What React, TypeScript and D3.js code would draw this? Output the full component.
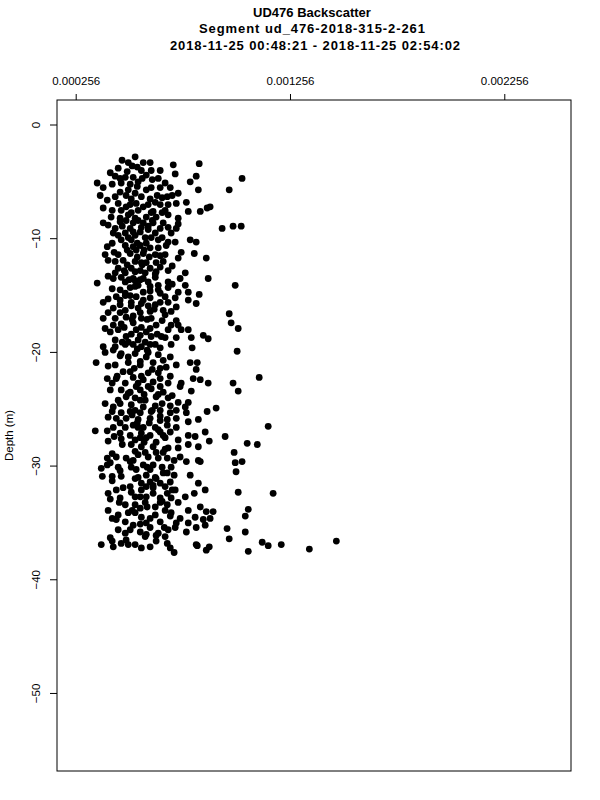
import React from "react";
import * as d3 from "d3";

// ---- chart text ----
const titleLines = [
  "UD476 Backscatter",
  "Segment ud_476-2018-315-2-261",
  "2018-11-25 00:48:21 - 2018-11-25 02:54:02",
];
const yLabel = "Depth (m)";

// ---- axis settings (data units) ----
const xLimits = [0.0001664, 0.002565];
const yLimits = [-56.82, 2.2];
const xTicks = [0.000256, 0.001256, 0.002256];
const xTickLabels = ["0.000256", "0.001256", "0.002256"];
const yTicks = [0, -10, -20, -30, -40, -50];

// ---- data: [backscatter, depth] ----
const outliers: [number, number][] = [
  [0.00083, -3.4], [0.000709, -3.5], [0.000718, -4.3], [0.00103, -4.7], [0.000816, -4.5], [0.000826, -5.7],
  [0.00097, -5.7], [0.000788, -5.0], [0.00077, -6.8], [0.000881, -7.2], [0.000867, -7.3], [0.000835, -7.6],
  [0.000779, -7.6], [0.000937, -9.1], [0.000988, -8.9], [0.001026, -8.9], [0.000788, -10.1], [0.000816, -10.3],
  [0.000807, -11.3], [0.000863, -11.7], [0.000872, -13.5], [0.000998, -14.1], [0.00083, -14.9], [0.000816, -15.7],
  [0.00097, -16.6], [0.000979, -17.4], [0.001012, -17.9], [0.000849, -18.5], [0.000872, -18.8], [0.000797, -19.6],
  [0.001007, -19.9], [0.000821, -20.9], [0.000816, -21.5], [0.00111, -22.2], [0.000835, -22.4], [0.000872, -22.7],
  [0.000988, -22.7], [0.001012, -23.4], [0.000793, -23.4], [0.000909, -24.9], [0.000867, -25.2], [0.001152, -26.5],
  [0.000858, -27.0], [0.000877, -27.8], [0.000951, -27.4], [0.001054, -28.0], [0.001101, -28.1], [0.000993, -28.8],
  [0.000998, -29.7], [0.00103, -29.6], [0.001002, -30.5], [0.000835, -29.6], [0.001012, -32.3], [0.001175, -32.4],
  [0.000826, -31.5], [0.000807, -32.4], [0.001059, -33.8], [0.001045, -34.4], [0.000895, -34.0], [0.000881, -34.6],
  [0.00096, -35.5], [0.001045, -35.8], [0.00097, -36.4], [0.001124, -36.7], [0.001152, -37.0], [0.001213, -36.9],
  [0.001344, -37.3], [0.00147, -36.6], [0.001059, -37.5], [0.000821, -37.0], [0.000877, -37.1],
];

const coreUpper: [number, number][] = [
  [0.000531, -2.8], [0.000601, -3.3], [0.000499, -3.3], [0.000452, -3.8], [0.000541, -3.7], [0.00056, -4.0],
  [0.000606, -4.0], [0.000438, -4.5], [0.000485, -4.6], [0.000522, -4.6], [0.000583, -4.4], [0.000639, -4.7],
  [0.000354, -5.1], [0.000466, -5.1], [0.000508, -5.2], [0.000545, -5.0], [0.000606, -5.5], [0.000671, -5.1],
  [0.000695, -5.5], [0.000382, -5.5], [0.000368, -6.2], [0.000438, -6.3], [0.000489, -6.2], [0.000531, -6.0],
  [0.00056, -6.3], [0.000634, -6.2], [0.000657, -6.4], [0.000681, -6.3], [0.000732, -6.0], [0.000452, -6.9],
  [0.000508, -7.0], [0.000536, -6.9], [0.000592, -7.0], [0.000648, -7.0], [0.000685, -7.0], [0.000723, -6.9],
  [0.000382, -7.3], [0.000466, -7.5], [0.000545, -7.5], [0.000615, -7.6], [0.000671, -7.5], [0.000419, -8.1],
  [0.000499, -7.9], [0.000531, -8.2], [0.000583, -8.1], [0.000629, -8.1], [0.000685, -7.9], [0.000732, -8.2],
  [0.000382, -8.6], [0.000461, -8.5], [0.000522, -8.6], [0.000569, -8.6], [0.000615, -8.6], [0.000662, -8.6],
  [0.000732, -8.7], [0.000438, -9.1], [0.000508, -9.1], [0.00056, -9.0], [0.000592, -9.2], [0.000648, -9.1],
  [0.000723, -9.1], [0.000429, -9.5], [0.000485, -9.5], [0.000531, -9.7], [0.000625, -9.5], [0.000699, -9.5],
  [0.000466, -10.1], [0.000513, -10.1], [0.000578, -9.9], [0.000639, -10.1], [0.000685, -10.3], [0.000718, -10.3],
  [0.000401, -10.7], [0.000485, -10.6], [0.000522, -10.7], [0.000555, -10.6], [0.000601, -10.8], [0.000639, -10.8],
  [0.000746, -11.2], [0.000391, -11.4], [0.000452, -11.4], [0.000508, -11.3], [0.000569, -11.3], [0.000625, -11.4],
  [0.000671, -11.4], [0.000732, -11.7], [0.000438, -12.0], [0.000475, -11.9], [0.000531, -12.0], [0.000583, -12.1],
  [0.000629, -12.1], [0.000662, -12.0], [0.000452, -12.6], [0.000513, -12.6], [0.000555, -12.8], [0.000601, -12.6],
  [0.000648, -12.5], [0.000685, -12.8], [0.000438, -13.0], [0.000485, -13.0], [0.000578, -13.0], [0.000429, -13.5],
  [0.000466, -13.4], [0.000522, -13.5], [0.000569, -13.5], [0.000625, -13.4], [0.000685, -13.8], [0.000765, -13.0],
  [0.000741, -13.5], [0.000354, -13.9], [0.000485, -13.8], [0.000545, -14.1], [0.000592, -13.8], [0.000639, -14.1],
  [0.000461, -14.5], [0.000508, -14.3], [0.000569, -14.7], [0.000639, -14.5], [0.000685, -14.3], [0.000732, -14.7],
  [0.000765, -14.1], [0.000779, -14.7], [0.000443, -15.1], [0.000485, -15.0], [0.000536, -15.1], [0.000601, -15.2],
  [0.000671, -15.1], [0.000718, -15.2], [0.000779, -15.4], [0.000382, -15.6], [0.000513, -15.6], [0.00056, -15.7],
  [0.000625, -15.8], [0.000685, -15.6], [0.000723, -16.0], [0.000429, -16.1], [0.000485, -16.3], [0.000545, -16.1],
  [0.000601, -16.4], [0.000662, -16.3], [0.000699, -16.4], [0.000382, -17.0], [0.000438, -17.0], [0.000489, -16.9],
  [0.00056, -17.0], [0.000606, -17.0], [0.000671, -16.7], [0.000723, -17.2], [0.000429, -17.6], [0.000522, -17.4],
  [0.000629, -17.6], [0.000699, -17.6], [0.000732, -17.6], [0.000391, -17.9], [0.000452, -18.0], [0.000536, -18.0],
  [0.000583, -18.2], [0.000685, -18.0], [0.000489, -18.6], [0.000606, -18.6], [0.000653, -18.6], [0.000746, -18.0],
  [0.000779, -18.0], [0.000438, -18.9], [0.000545, -18.9], [0.000723, -18.7], [0.000793, -18.7], [0.000382, -19.5],
  [0.000438, -19.5], [0.000485, -19.3], [0.000522, -19.3], [0.00056, -19.5], [0.000601, -19.3], [0.000648, -19.6],
  [0.000699, -19.3],
];

const coreLower: [number, number][] = [
  [0.000429, -19.8], [0.000466, -20.1], [0.000531, -20.1], [0.000592, -20.0], [0.000639, -20.2], [0.000695, -20.4],
  [0.000349, -20.9], [0.000438, -21.1], [0.000499, -20.9], [0.000555, -21.1], [0.000615, -20.9], [0.000676, -21.3],
  [0.000723, -21.1], [0.000788, -20.9], [0.000475, -21.7], [0.000592, -21.8], [0.000639, -21.8], [0.000401, -22.3],
  [0.000424, -22.7], [0.000485, -22.7], [0.000522, -22.2], [0.000569, -22.4], [0.000615, -22.6], [0.000648, -22.3],
  [0.000685, -22.7], [0.000746, -22.7], [0.000802, -22.3], [0.000466, -23.3], [0.000508, -23.5], [0.000555, -23.3],
  [0.000606, -23.2], [0.000662, -23.5], [0.000741, -23.0], [0.000391, -24.5], [0.000452, -24.2], [0.000489, -23.9],
  [0.000531, -24.0], [0.000578, -24.2], [0.000629, -23.9], [0.000685, -24.0], [0.000732, -24.4], [0.000779, -24.4],
  [0.000429, -24.8], [0.000513, -24.6], [0.000569, -24.8], [0.000657, -24.5], [0.000695, -24.7], [0.000765, -24.8],
  [0.000424, -25.2], [0.000466, -25.3], [0.000508, -25.2], [0.000555, -25.3], [0.000606, -25.2], [0.000648, -25.1],
  [0.000695, -25.3], [0.00077, -25.3], [0.000443, -25.8], [0.000489, -25.8], [0.000545, -25.9], [0.000601, -25.8],
  [0.000681, -25.9], [0.000723, -25.8], [0.000826, -25.9], [0.000779, -26.1], [0.000345, -26.9], [0.000429, -26.6],
  [0.000485, -26.6], [0.000522, -26.4], [0.000569, -26.6], [0.000625, -26.6], [0.000681, -26.4], [0.000723, -26.6],
  [0.000461, -27.1], [0.000508, -27.3], [0.00056, -27.1], [0.000601, -27.3], [0.000648, -27.0], [0.000695, -27.0],
  [0.000779, -27.3], [0.000811, -27.4], [0.000405, -27.8], [0.000466, -27.6], [0.000531, -27.7], [0.000583, -27.5],
  [0.000629, -27.9], [0.000732, -27.7], [0.000779, -28.1], [0.000826, -28.3], [0.000513, -28.1], [0.00056, -28.3],
  [0.000671, -28.5], [0.000615, -28.3], [0.000732, -28.4], [0.000401, -29.3], [0.000443, -29.2], [0.000489, -29.3],
  [0.000545, -29.0], [0.000592, -29.2], [0.000629, -28.8], [0.000681, -29.3], [0.000713, -29.5], [0.000741, -29.2],
  [0.00077, -29.6], [0.000826, -29.5], [0.000373, -30.2], [0.000415, -29.7], [0.000452, -30.1], [0.000513, -30.1],
  [0.000569, -29.9], [0.000615, -29.9], [0.000657, -30.1], [0.000699, -30.1], [0.000378, -30.9], [0.000424, -30.9],
  [0.000466, -30.9], [0.000583, -30.8], [0.000625, -31.0], [0.000662, -30.6], [0.000713, -30.8], [0.000788, -30.8],
  [0.000601, -31.4], [0.000648, -31.5], [0.000695, -31.4], [0.00056, -31.5], [0.000443, -32.1], [0.000475, -31.9],
  [0.000513, -32.3], [0.00056, -32.1], [0.000615, -31.9], [0.000681, -32.4], [0.000718, -32.1], [0.000765, -32.7],
  [0.000858, -32.1], [0.000415, -32.9], [0.000461, -32.8], [0.000531, -32.7], [0.000583, -32.7], [0.000648, -32.8],
  [0.000699, -32.8], [0.000732, -33.2], [0.000485, -33.4], [0.000531, -33.4], [0.000555, -33.7], [0.000625, -33.6],
  [0.000681, -33.4], [0.000779, -33.9], [0.000835, -33.6], [0.000863, -34.0], [0.000424, -34.6], [0.000452, -34.3],
  [0.000499, -34.1], [0.00056, -34.5], [0.000625, -34.3], [0.000699, -34.1], [0.000741, -34.6], [0.000811, -34.5],
  [0.000849, -34.7], [0.000485, -34.9], [0.000522, -35.2], [0.000583, -35.0], [0.000648, -34.9], [0.000723, -35.0],
  [0.000779, -35.0], [0.000816, -35.4], [0.000858, -35.2], [0.000508, -35.6], [0.000555, -35.8], [0.000601, -35.4],
  [0.000685, -35.6], [0.000718, -35.4], [0.00077, -35.8], [0.000578, -36.2], [0.000629, -36.1], [0.000671, -36.2],
  [0.000373, -36.9], [0.000424, -36.6], [0.000466, -36.8], [0.000531, -36.9], [0.00056, -37.2], [0.000601, -37.1],
  [0.000681, -36.8], [0.000695, -37.2], [0.000713, -37.6], [0.000816, -36.9], [0.000863, -37.4], [0.000489, -36.5],
];

const coreSpine: [number, number][] = [
  [0.000517, -3.6], [0.000494, -4.1], [0.000564, -4.7], [0.000541, -5.4], [0.000499, -5.7], [0.000583, -5.7],
  [0.000513, -6.5], [0.000601, -6.5], [0.000569, -7.2], [0.000513, -7.7], [0.000606, -7.7], [0.000545, -8.4],
  [0.000489, -8.4], [0.000592, -8.9], [0.000471, -8.9], [0.000555, -9.4], [0.000499, -9.9], [0.000606, -9.9],
  [0.000541, -10.4], [0.000583, -10.4], [0.000494, -11.0], [0.000573, -11.0], [0.000541, -11.6], [0.000597, -11.6],
  [0.000494, -12.3], [0.000564, -12.3], [0.000531, -12.9], [0.000629, -12.9], [0.000555, -13.6], [0.000503, -13.6],
  [0.000601, -14.2], [0.000531, -14.2], [0.000485, -14.8], [0.000648, -14.8], [0.000569, -15.4], [0.000461, -15.4],
  [0.000513, -15.9], [0.000592, -15.9], [0.000555, -16.5], [0.000461, -16.5], [0.000517, -17.1], [0.000587, -17.1],
  [0.00048, -17.8], [0.00056, -17.8], [0.000513, -18.4], [0.000634, -18.4], [0.000578, -19.1], [0.000499, -19.1],
  [0.000541, -19.7], [0.000499, -20.4], [0.000583, -20.4], [0.000527, -21.4], [0.000648, -21.4], [0.00056, -22.1],
  [0.000447, -22.1], [0.000592, -23.0], [0.000536, -23.0], [0.000639, -23.7], [0.000573, -23.7], [0.000611, -25.1],
  [0.000531, -25.1], [0.000648, -25.6], [0.000597, -26.2], [0.000541, -26.2], [0.000639, -26.8], [0.000671, -27.5],
  [0.000555, -27.5], [0.000578, -28.8], [0.000662, -28.8], [0.000522, -29.5], [0.000601, -30.3], [0.000536, -30.3],
  [0.000531, -31.1], [0.000629, -31.1], [0.000583, -31.8], [0.000671, -31.8], [0.000615, -32.4], [0.000578, -33.2],
  [0.000648, -33.2], [0.000517, -33.9], [0.000671, -33.9], [0.000601, -34.6], [0.000485, -35.9], [0.000639, -35.9],
];

const coreFill: [number, number][] = [
  [0.00047, -3.1], [0.000569, -3.3], [0.000648, -4.0], [0.000415, -4.2], [0.000461, -4.7], [0.000611, -4.8],
  [0.000424, -5.2], [0.000648, -5.5], [0.000461, -5.9], [0.000704, -6.2], [0.000401, -6.6], [0.000625, -6.8],
  [0.000489, -7.2], [0.000424, -7.5], [0.000657, -7.7], [0.000461, -8.2], [0.000611, -8.4], [0.000405, -8.8],
  [0.000685, -9.0], [0.000522, -9.4], [0.000452, -9.7], [0.000657, -9.9], [0.000424, -10.4], [0.000676, -10.6],
  [0.000536, -11.0], [0.000433, -11.2], [0.000648, -11.5], [0.000405, -11.9], [0.00056, -12.1], [0.000704, -12.4],
  [0.00048, -12.8], [0.000625, -13.1], [0.000405, -13.3], [0.000531, -13.7], [0.000704, -14.0], [0.000424, -14.4],
  [0.000601, -14.6], [0.000508, -15.0], [0.000405, -15.3], [0.000648, -15.6], [0.000461, -15.8], [0.00062, -16.2],
  [0.000405, -16.5], [0.000522, -16.8], [0.000657, -17.2], [0.000466, -17.5], [0.000601, -17.9], [0.000415, -18.2],
  [0.000555, -18.5], [0.000671, -18.7], [0.000471, -19.1], [0.000625, -19.3], [0.000587, -19.8], [0.000391, -20.0],
  [0.000461, -20.3], [0.000662, -20.7], [0.000555, -20.8], [0.000405, -21.2], [0.000611, -21.5], [0.000508, -21.7],
  [0.000695, -22.1], [0.000443, -22.3], [0.000545, -22.7], [0.000648, -23.0], [0.000415, -23.3], [0.000499, -23.6],
  [0.000704, -23.8], [0.000555, -24.2], [0.000461, -24.5], [0.000625, -24.7], [0.000723, -25.1], [0.000517, -25.5],
  [0.000405, -25.7], [0.000648, -26.0], [0.000461, -26.2], [0.000545, -26.6], [0.000401, -26.9], [0.000662, -27.3],
  [0.000433, -27.4], [0.000573, -27.9], [0.000471, -28.1], [0.000685, -28.4], [0.000531, -28.7], [0.000424, -28.9],
  [0.000639, -29.3], [0.000508, -29.6], [0.000401, -29.9], [0.000587, -30.1], [0.000461, -30.4], [0.000681, -30.6],
  [0.000545, -31.0], [0.000424, -31.3], [0.000615, -31.7], [0.000508, -31.8], [0.000704, -32.1], [0.000405, -32.4],
  [0.000555, -32.7], [0.000657, -33.1], [0.000457, -33.2], [0.000587, -33.6], [0.000405, -33.9], [0.000531, -34.1],
  [0.000695, -34.4], [0.000443, -34.7], [0.000555, -35.1], [0.000667, -35.4], [0.000452, -35.6], [0.000583, -36.0],
  [0.000415, -36.3], [0.000629, -36.6], [0.000499, -36.9], [0.000429, -37.1],
];

const allPoints = [...coreUpper, ...coreLower, ...coreSpine, ...coreFill, ...outliers];

// ---- layout ----
const W = 600;
const H = 800;
const plot = { left: 57, right: 571, top: 100, bottom: 771 };
const FONT = "'Liberation Sans', Arial, Helvetica, sans-serif";

export default function App() {
  const x = d3.scaleLinear().domain(xLimits).range([plot.left, plot.right]);
  const y = d3.scaleLinear().domain(yLimits).range([plot.bottom, plot.top]);
  const fmtY = (v: number) => (v < 0 ? "\u2212" + Math.abs(v) : String(v));
  const cx = 312;

  return (
    <svg
      width={W}
      height={H}
      viewBox={`0 0 ${W} ${H}`}
      style={{ position: "absolute", left: 0, top: 0, background: "#fff" }}
    >
      <rect x={0} y={0} width={W} height={H} fill="#fff" />
      {/* titles */}
      <text x={cx} y={17} textAnchor="middle" fontFamily={FONT} fontSize={13} fontWeight="bold">
        {titleLines[0]}
      </text>
      <text
        x={cx}
        y={33}
        textAnchor="middle"
        fontFamily={FONT}
        fontSize={13}
        fontWeight="bold"
        textLength={226}
        lengthAdjust="spacing"
      >
        {titleLines[1]}
      </text>
      <text
        x={cx + 3}
        y={50}
        textAnchor="middle"
        fontFamily={FONT}
        fontSize={13}
        fontWeight="bold"
        textLength={290}
        lengthAdjust="spacing"
      >
        {titleLines[2]}
      </text>

      {/* points */}
      <g>
        {allPoints.map((d, i) => (
          <circle key={i} cx={x(d[0])} cy={y(d[1])} r={3.4} fill="#000" />
        ))}
      </g>

      {/* box */}
      <rect
        x={plot.left}
        y={plot.top}
        width={plot.right - plot.left}
        height={plot.bottom - plot.top}
        fill="none"
        stroke="#000"
        strokeWidth={1}
      />

      {/* top axis */}
      <g>
        {xTicks.map((t, i) => (
          <g key={i}>
            <line x1={x(t)} x2={x(t)} y1={plot.top} y2={plot.top - 6} stroke="#000" />
            <text x={x(t)} y={85} textAnchor="middle" fontFamily={FONT} fontSize={11.5}>
              {xTickLabels[i]}
            </text>
          </g>
        ))}
      </g>

      {/* left axis */}
      <g>
        {yTicks.map((t, i) => (
          <g key={i}>
            <line x1={plot.left} x2={plot.left - 7} y1={y(t)} y2={y(t)} stroke="#000" />
            <text
              transform={`translate(40,${y(t)}) rotate(-90)`}
              textAnchor="middle"
              fontFamily={FONT}
              fontSize={11.5}
            >
              {fmtY(t)}
            </text>
          </g>
        ))}
      </g>

      <text
        transform={`translate(13,${(plot.top + plot.bottom) / 2}) rotate(-90)`}
        textAnchor="middle"
        fontFamily={FONT}
        fontSize={11.5}
      >
        {yLabel}
      </text>
    </svg>
  );
}
